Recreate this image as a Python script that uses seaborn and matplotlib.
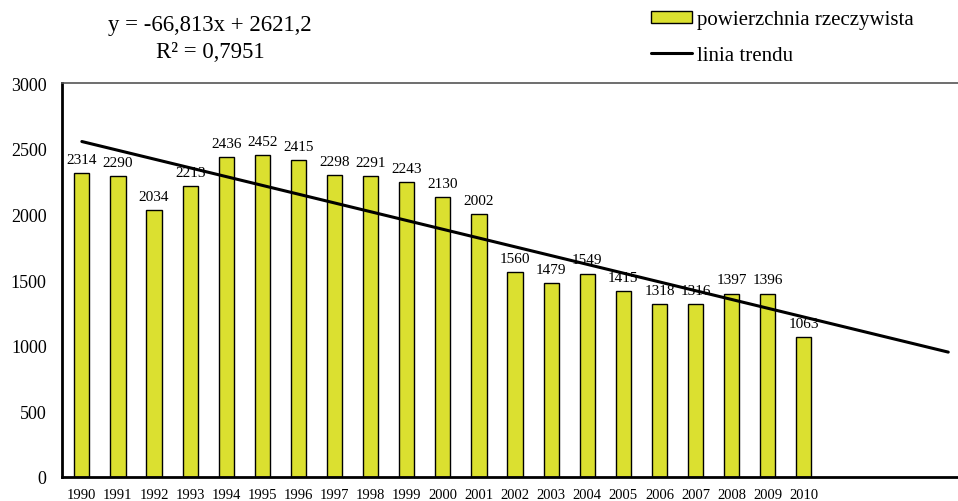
import numpy as np
import pandas as pd
import seaborn as sns
import matplotlib.pyplot as plt
from matplotlib.patches import Patch
from matplotlib.lines import Line2D

years = [str(y) for y in range(1990, 2011)]
area = [2314, 2290, 2034, 2213, 2436, 2452, 2415, 2298, 2291, 2243, 2130,
        2002, 1560, 1479, 1549, 1415, 1318, 1316, 1397, 1396, 1063]
trend_slope = -66.813
trend_icept = 2621.2
trend_len = 25  # trend drawn to 2014

sns.set_theme(style="white")
plt.rcParams['font.family'] = ['Liberation Serif', 'DejaVu Serif']
plt.rcParams['text.color'] = 'black'
plt.rcParams['xtick.color'] = 'black'
plt.rcParams['ytick.color'] = 'black'

bar_color = '#dbe030'

fig = plt.figure(figsize=(9.58, 5.02), dpi=100)
ax = fig.add_axes([62/958, 24/502, 1 - 62/958, (478-84)/502])

df = pd.DataFrame({'rok': years, 'pow': area})
sns.barplot(data=df, x='rok', y='pow', color=bar_color, width=0.42,
            edgecolor='black', linewidth=1.0, saturation=1, ax=ax)

# trend line from the fitted equation
tx = np.arange(trend_len)
ty = trend_slope * (tx + 1) + trend_icept
sns.lineplot(x=tx, y=ty, color='black', linewidth=2.2, ax=ax)

for i, v in enumerate(area):
    ax.text(i, v + 55, str(v), ha='center', va='bottom', fontsize=11)

ax.set_xlim(-0.55, 24.27)
ax.set_ylim(0, 3000)
ax.set_yticks(range(0, 3001, 500))
ax.tick_params(axis='y', labelsize=13, pad=11, length=0)
ax.tick_params(axis='x', labelsize=10.5, pad=8, length=0)
ax.set_xlabel('')
ax.set_ylabel('')

for s in ['left', 'bottom']:
    ax.spines[s].set_color('black')
    ax.spines[s].set_linewidth(2)
ax.spines['top'].set_color('#555555')
ax.spines['top'].set_linewidth(1.2)
ax.spines['right'].set_visible(False)

fig.text(210/958, 1 - 26/502, 'y = -66,813x + 2621,2', ha='center', va='center', fontsize=16.4)
fig.text(210/958, 1 - 52/502, 'R² = 0,7951', ha='center', va='center', fontsize=16.4)

handles = [Patch(facecolor=bar_color, edgecolor='black', linewidth=1),
           Line2D([0], [0], color='black', linewidth=2.2)]
fig.legend(handles, ['powierzchnia rzeczywista', 'linia trendu'],
           loc='upper left', bbox_to_anchor=(640/958, 1.0), frameon=False,
           fontsize=15, handlelength=1.95, handleheight=0.5,
           handletextpad=0.25, labelspacing=0.8, borderaxespad=0.15)

fig.savefig('out.png', dpi=100)
